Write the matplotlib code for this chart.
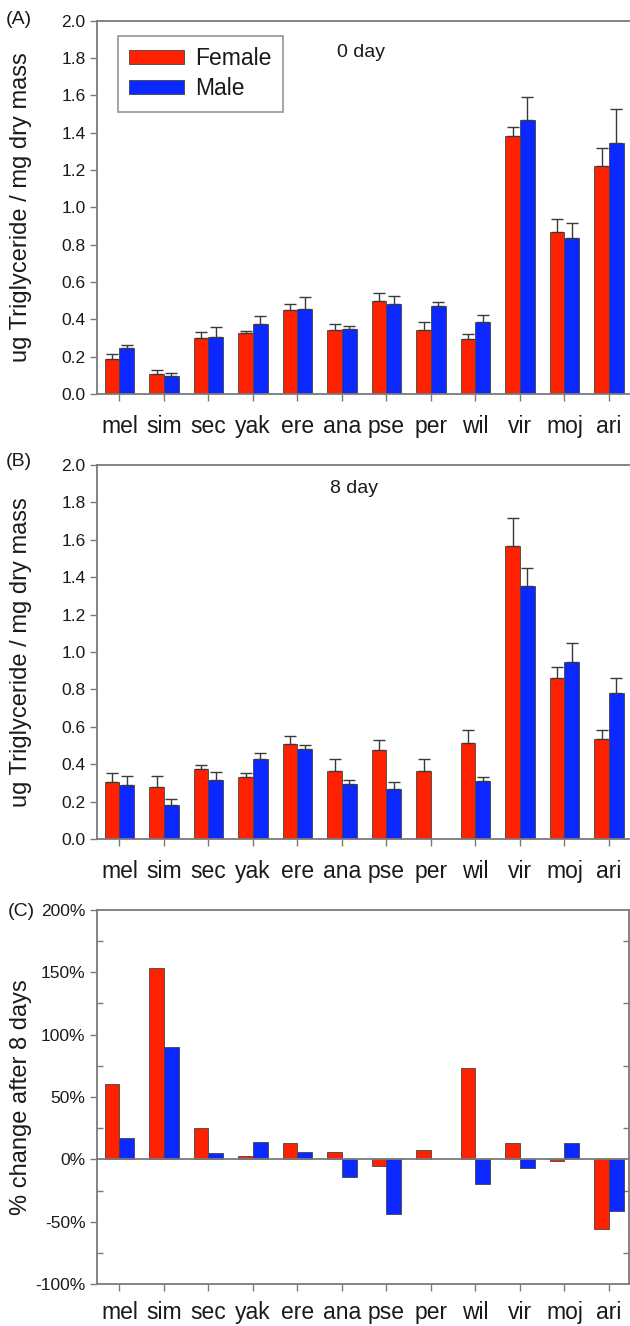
import numpy as np
import matplotlib
matplotlib.use("Agg")
import matplotlib.pyplot as plt
from matplotlib.ticker import MultipleLocator, FuncFormatter

plt.rcParams['font.family'] = ['Liberation Sans', 'DejaVu Sans']

species = ["mel", "sim", "sec", "yak", "ere", "ana", "pse", "per", "wil", "vir", "moj", "ari"]

# Panel A: 0 day
female_0 = [0.19, 0.107, 0.30, 0.325, 0.45, 0.343, 0.50, 0.341, 0.293, 1.383, 0.867, 1.224]
female_0_err = [0.022, 0.020, 0.034, 0.010, 0.034, 0.032, 0.042, 0.043, 0.030, 0.045, 0.070, 0.095]
male_0 = [0.245, 0.097, 0.304, 0.377, 0.456, 0.347, 0.483, 0.470, 0.384, 1.469, 0.838, 1.346]
male_0_err = [0.018, 0.016, 0.057, 0.041, 0.062, 0.019, 0.042, 0.025, 0.040, 0.123, 0.077, 0.182]

# Panel B: 8 day
female_8 = [0.306, 0.280, 0.373, 0.330, 0.508, 0.362, 0.476, 0.364, 0.512, 1.567, 0.861, 0.533]
female_8_err = [0.049, 0.057, 0.023, 0.025, 0.043, 0.064, 0.052, 0.064, 0.071, 0.150, 0.057, 0.048]
male_8 = [0.289, 0.182, 0.316, 0.430, 0.481, 0.296, 0.269, np.nan, 0.310, 1.355, 0.948, 0.779]
male_8_err = [0.048, 0.032, 0.041, 0.031, 0.022, 0.018, 0.036, np.nan, 0.020, 0.096, 0.102, 0.082]

# Panel C: % change after 8 days
female_pct = [60.4, 153.4, 24.8, 2.7, 13.1, 5.6, -5.1, 7.2, 73.0, 13.3, -1.1, -56.1]
male_pct = [17.3, 90.3, 4.8, 14.1, 6.1, -14.4, -43.9, np.nan, -19.6, -7.2, 13.1, -41.7]

RED = "#FF2200"
BLUE = "#0A28FF"
SPINE = "#7a7a7a"
EDGE = "#444444"
TXT = "#1a1a1a"

W = 0.335
x = np.arange(len(species))

fig = plt.figure(figsize=(6.3, 13.26), dpi=100)
H = 1326.0
FW = 630.0
LEFT = 96.7
RIGHT = 629.0

def axes_px(top, bottom, left=LEFT, right=RIGHT):
    return fig.add_axes([left / FW, 1 - bottom / H, (right - left) / FW, (bottom - top) / H])

axA = axes_px(20.7, 394.0)
axB = axes_px(465.0, 839.0)
axC = axes_px(910.0, 1284.0)

XL = (-0.512, 11.45)
YLAB_X = (21.0 - LEFT) / (RIGHT - LEFT)

def style_common(ax, pad):
    ax.set_xlim(*XL)
    ax.set_xticks(x)
    ax.set_xticklabels(species, fontsize=16.5, color=TXT)
    for s in ax.spines.values():
        s.set_color(SPINE)
        s.set_linewidth(1.3)
    ax.tick_params(axis='x', direction='out', length=5, width=1.0, color=SPINE, pad=pad)
    ax.tick_params(axis='y', labelsize=12.5, labelcolor=TXT, color=SPINE)

def set_ylab(ax, text):
    ax.set_ylabel(text, fontsize=17, color=TXT)
    ax.yaxis.label.set_va('center')
    ax.yaxis.set_label_coords(YLAB_X, 0.5)

def tg_panel(ax, f, fe, m, me, title, tx, ty, label, ly):
    fe_arr = np.array(fe, dtype=float)
    me_arr = np.array(me, dtype=float)
    ax.bar(x - W / 2, f, W, color=RED, edgecolor=EDGE, linewidth=0.6, zorder=2,
           label="Female")
    ax.bar(x + W / 2, m, W, color=BLUE, edgecolor=EDGE, linewidth=0.6, zorder=2,
           label="Male")
    ax.errorbar(x - W / 2, f, yerr=[np.zeros_like(fe_arr), fe_arr], fmt='none',
                ecolor="#3a3a3a", elinewidth=1.0, capsize=4, capthick=1.0, zorder=3)
    ax.errorbar(x + W / 2, m, yerr=[np.zeros_like(me_arr), me_arr], fmt='none',
                ecolor="#3a3a3a", elinewidth=1.0, capsize=4, capthick=1.0, zorder=3)
    ax.set_ylim(0, 2.0)
    ax.yaxis.set_major_locator(MultipleLocator(0.2))
    ax.yaxis.set_major_formatter(FuncFormatter(lambda v, p: f"{v:.1f}"))
    style_common(ax, 10)
    ax.tick_params(axis='y', direction='out', length=5, width=1.0, pad=3)
    ax.spines['right'].set_visible(False)
    set_ylab(ax, "ug Triglyceride / mg dry mass")
    ax.text(tx, ty, title, transform=ax.transAxes, ha='center', va='center',
            fontsize=14, color=TXT)
    fig.text(6 / FW, 1 - ly / H, label, ha='left', va='center', fontsize=14, color=TXT)

tg_panel(axA, female_0, female_0_err, male_0, male_0_err, "0 day", 0.4965, 0.915, "(A)", 20)
tg_panel(axB, female_8, female_8_err, male_8, male_8_err, "8 day", 0.483, 0.938, "(B)", 461)

leg = axA.legend(loc='upper left', bbox_to_anchor=(0.040, 0.959), borderaxespad=0,
                 fontsize=16.5, handlelength=2.4, handleheight=0.55, labelspacing=0.3,
                 handletextpad=0.45, borderpad=0.5, frameon=True, fancybox=False)
leg.get_frame().set_edgecolor(SPINE)
leg.get_frame().set_linewidth(1.2)
for t in leg.get_texts():
    t.set_color(TXT)

# Panel C
axC.bar(x - W / 2, female_pct, W, color=RED, edgecolor=EDGE, linewidth=0.6, zorder=2)
axC.bar(x + W / 2, male_pct, W, color=BLUE, edgecolor=EDGE, linewidth=0.6, zorder=2)
axC.axhline(0, color=SPINE, linewidth=1.3, zorder=3)
axC.set_ylim(-100, 200)
axC.yaxis.set_major_locator(MultipleLocator(50))
axC.yaxis.set_minor_locator(MultipleLocator(25))
axC.yaxis.set_major_formatter(FuncFormatter(lambda v, p: f"{v:.0f}%"))
style_common(axC, 7.5)
axC.tick_params(axis='y', which='major', direction='out', length=5, width=1.0, pad=3)
axC.tick_params(axis='y', which='minor', direction='in', length=4, width=1.0,
                color=SPINE, left=True, right=True)
set_ylab(axC, "% change after 8 days")
fig.text(8 / FW, 1 - 912 / H, "(C)", ha='left', va='center', fontsize=14, color=TXT)

fig.savefig("out.png", dpi=100)
